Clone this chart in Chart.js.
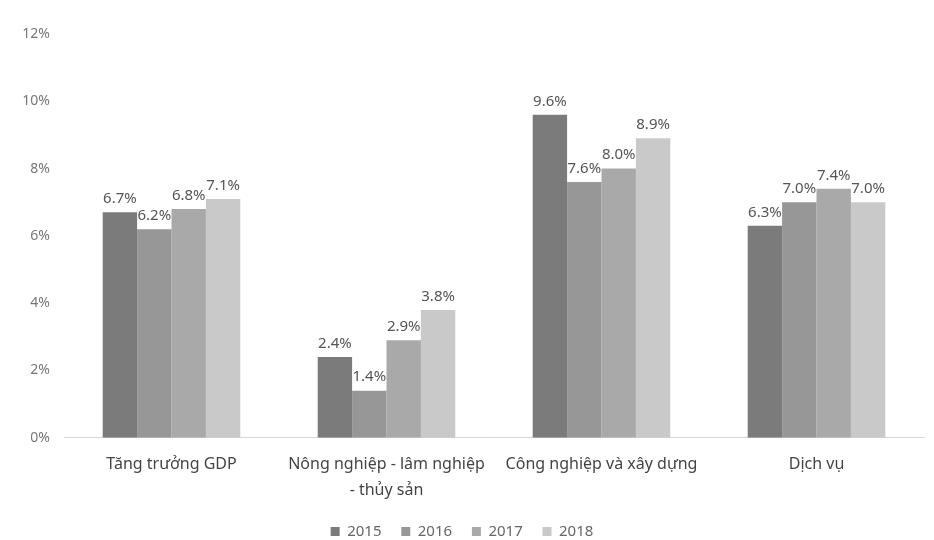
<!DOCTYPE html>
<html>
<head>
<meta charset="utf-8">
<script src="https://cdn.jsdelivr.net/npm/chart.js@4/dist/chart.umd.min.js"></script>
<style>
html,body{margin:0;padding:0;background:#fff;}
#wrap{width:934px;height:540px;}
</style>
</head>
<body>
<div id="wrap"><canvas id="c" width="934" height="540"></canvas></div>
<script>
const categories = ["Tăng trưởng GDP", ["Nông nghiệp - lâm nghiệp", "- thủy sản"], "Công nghiệp và xây dựng", "Dịch vụ"];
const years = ["2015", "2016", "2017", "2018"];
const v2015 = [6.7, 2.4, 9.6, 6.3];
const v2016 = [6.2, 1.4, 7.6, 7.0];
const v2017 = [6.8, 2.9, 8.0, 7.4];
const v2018 = [7.1, 3.8, 8.9, 7.0];
const yTicks = [0, 2, 4, 6, 8, 10, 12];

const colors = ["#7b7b7b", "#979797", "#a9a9a9", "#c9c9c9"];
const series = [v2015, v2016, v2017, v2018];

const labelPlugin = {
  id: 'valueLabels',
  afterDatasetsDraw(chart) {
    const ctx = chart.ctx;
    ctx.save();
    ctx.font = '15px "Noto Sans", sans-serif';
    ctx.fillStyle = '#555';
    ctx.textAlign = 'center';
    ctx.textBaseline = 'bottom';
    chart.data.datasets.forEach((ds, i) => {
      const meta = chart.getDatasetMeta(i);
      meta.data.forEach((bar, j) => {
        ctx.fillText(ds.data[j].toFixed(1) + '%', bar.x, bar.y - 6);
      });
    });
    ctx.restore();
  }
};

new Chart(document.getElementById('c'), {
  type: 'bar',
  data: {
    labels: categories,
    datasets: years.map((y, i) => ({
      label: y,
      data: series[i],
      backgroundColor: colors[i],
      borderWidth: 0,
      categoryPercentage: 0.64,
      barPercentage: 1.0
    }))
  },
  options: {
    responsive: false,
    animation: false,
    devicePixelRatio: 1,
    layout: { padding: { top: 34, right: 10, left: 0, bottom: -9 } },
    plugins: {
      legend: {
        position: 'bottom',
        labels: {
          boxWidth: 9, boxHeight: 9, padding: 12,
          color: '#666',
          font: { size: 15, family: '"Noto Sans", sans-serif' },
          generateLabels(chart) {
            const items = Chart.defaults.plugins.legend.labels.generateLabels(chart);
            items.forEach((it, i) => { if (i < items.length - 1) it.text = it.text + '  '; });
            return items;
          }
        }
      },
      tooltip: { enabled: false }
    },
    scales: {
      x: {
        afterFit(scale) { scale.height -= 5; },
        grid: { display: false, drawTicks: false },
        border: { display: true, color: '#d6d6d6', width: 1 },
        ticks: {
          color: '#444',
          padding: 14,
          maxRotation: 0, autoSkip: false,
          font: { size: 16, family: '"Noto Sans", sans-serif', lineHeight: 1.6 }
        }
      },
      y: {
        min: 0, max: 12,
        afterBuildTicks(scale) { scale.ticks = yTicks.map(v => ({ value: v })); },
        afterFit(scale) { scale.width = 64; },
        grid: { display: false, drawTicks: false },
        border: { display: false },
        ticks: {
          color: '#777',
          padding: 14,
          font: { size: 14, family: '"Noto Sans", sans-serif' },
          callback: v => v + '%'
        }
      }
    }
  },
  plugins: [labelPlugin]
});
</script>
</body>
</html>
